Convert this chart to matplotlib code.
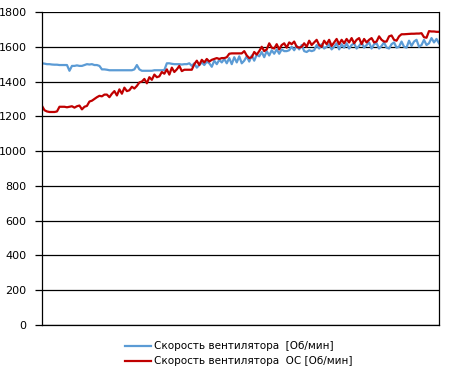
import matplotlib
matplotlib.use("Agg")
import matplotlib.pyplot as plt

# fan speed readings, rpm
fan_speed = [
    1505, 1503, 1500, 1500, 1498, 1497, 1497, 1495, 1495, 1495,
    1495, 1462, 1490, 1490, 1493, 1490, 1490, 1495, 1500, 1498,
    1500, 1495, 1495, 1490, 1470, 1470, 1468, 1465, 1465, 1465,
    1465, 1465, 1465, 1465, 1465, 1465, 1465, 1470, 1495, 1470,
    1462, 1462, 1462, 1462, 1462, 1465, 1465, 1465, 1465, 1466,
    1505, 1505, 1502, 1500, 1500, 1500, 1498, 1500, 1500, 1505,
    1490, 1505, 1480, 1495, 1510, 1495, 1515, 1505, 1485, 1520,
    1500, 1525, 1510, 1530, 1505, 1535, 1500, 1540, 1510, 1545,
    1505, 1520, 1545, 1515, 1550, 1520, 1555, 1545, 1570, 1540,
    1575, 1550, 1580, 1560, 1585, 1560, 1585, 1575, 1575, 1580,
    1600, 1580, 1605, 1585, 1610, 1575, 1570, 1580, 1575, 1580,
    1610, 1590, 1615, 1590, 1600, 1615, 1585, 1600, 1620, 1585,
    1615, 1595, 1620, 1590, 1610, 1620, 1590, 1605, 1625, 1595,
    1610, 1625, 1590, 1615, 1620, 1590, 1605, 1625, 1595, 1590,
    1615, 1625, 1595, 1600, 1630, 1600, 1595, 1635, 1605, 1630,
    1640, 1600, 1610, 1640, 1610, 1620, 1650, 1625, 1645, 1620,
]

# fan speed OC readings, rpm
fan_speed_oc = [
    1260, 1235, 1228, 1225, 1225, 1225, 1228, 1255, 1255, 1255,
    1252, 1255, 1258, 1250, 1258, 1262, 1240, 1255, 1260, 1285,
    1290, 1300, 1310, 1318, 1315, 1325, 1325, 1310, 1330, 1345,
    1320, 1355, 1330, 1365, 1345, 1350, 1370, 1360, 1375, 1395,
    1400, 1415, 1390, 1425, 1410, 1440, 1425, 1430, 1455, 1445,
    1470, 1440, 1480, 1455, 1470, 1490, 1460, 1468, 1468, 1468,
    1468, 1500, 1520, 1495, 1525, 1510, 1530, 1515, 1525, 1530,
    1535, 1530, 1535, 1535, 1540, 1560, 1562, 1562, 1562, 1562,
    1562, 1575, 1550, 1535, 1540, 1570, 1555, 1575, 1600, 1575,
    1585, 1620, 1595, 1590, 1615, 1585, 1610, 1620, 1595, 1625,
    1615, 1630, 1600, 1595, 1600, 1620, 1600, 1635, 1610, 1625,
    1640, 1610, 1600, 1635, 1615, 1640, 1605, 1625, 1645, 1615,
    1640, 1620, 1645, 1625, 1650, 1620, 1640, 1650, 1615, 1645,
    1625, 1640, 1650, 1625, 1630, 1660, 1640, 1630, 1630, 1660,
    1665, 1640, 1635, 1660, 1672, 1672, 1673, 1674, 1675, 1675,
    1676, 1676, 1678, 1655, 1652, 1690, 1688, 1688, 1686, 1686,
]

y_ticks = [0, 200, 400, 600, 800, 1000, 1200, 1400, 1600, 1800]
labels = ["Скорость вентилятора  [Об/мин]", "Скорость вентилятора  ОС [Об/мин]"]

fig = plt.figure(figsize=(4.54, 3.78), dpi=100)
ax = fig.add_axes([42 / 454, 1 - 325 / 378, 397 / 454, 313 / 378])

x = list(range(len(fan_speed)))
ax.plot(x, fan_speed, color="#5B9BD5", lw=1.6, label=labels[0])
ax.plot(x, fan_speed_oc, color="#C00000", lw=1.6, label=labels[1])

ax.set_xlim(0, len(fan_speed) - 1)
ax.set_ylim(0, 1800)
ax.set_yticks(y_ticks)
ax.set_xticks([])
ax.yaxis.grid(True, color="black", lw=0.9)
ax.set_axisbelow(True)
ax.tick_params(axis="y", length=5, width=0.9, labelsize=8, pad=6)
for s in ("left", "bottom", "right"):
    ax.spines[s].set_linewidth(0.9)
ax.spines["top"].set_visible(False)

fig.legend(loc="upper left", bbox_to_anchor=(120 / 454, 1 - 336 / 378),
           frameon=False, fontsize=7.5, handlelength=2.5, handletextpad=0.3,
           labelspacing=0.5, borderpad=0)

fig.savefig("out.png", dpi=100)
